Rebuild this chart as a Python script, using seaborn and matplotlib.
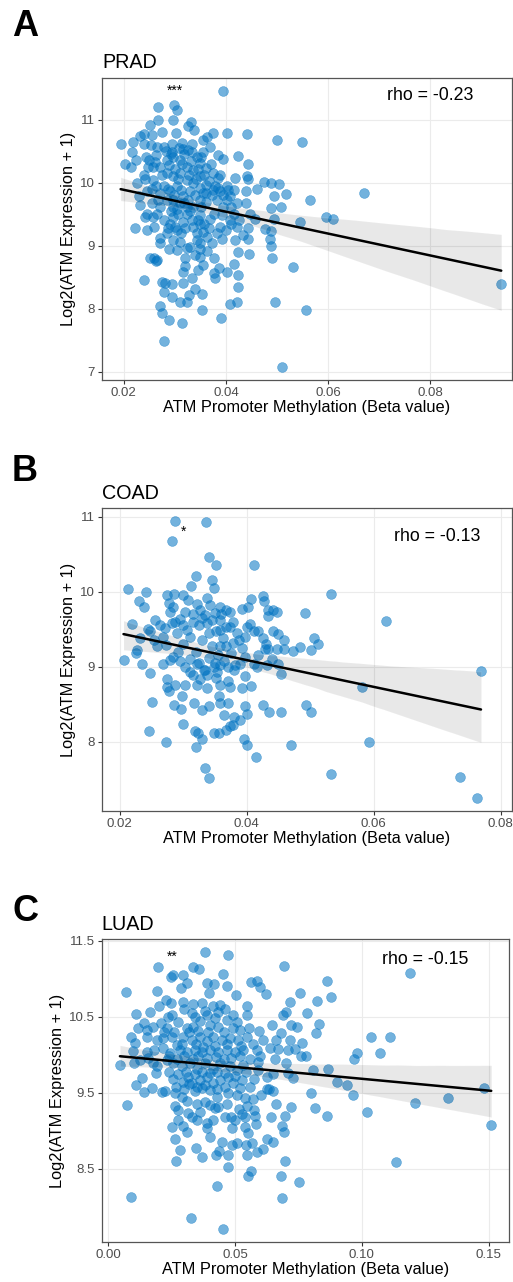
import matplotlib
matplotlib.use("Agg")
import matplotlib.pyplot as plt
import seaborn as sns
import pandas as pd

# (beta value, log2 expression)
prad_points = [
    (0.0395, 11.45), (0.0268, 11.20), (0.0299, 11.23), (0.0304, 11.15), (0.0297, 11.00),
    (0.0268, 10.99), (0.0252, 10.92), (0.0275, 10.81), (0.0331, 10.96), (0.0325, 10.90),
    (0.0338, 10.84), (0.0303, 10.79), (0.0240, 10.77), (0.0231, 10.74), (0.0256, 10.76),
    (0.0194, 10.61), (0.0219, 10.65), (0.0239, 10.62), (0.0254, 10.60), (0.0202, 10.29),
    (0.0215, 10.25), (0.0217, 10.49), (0.0225, 10.36), (0.0244, 10.41), (0.0263, 10.44),
    (0.0278, 10.57), (0.0294, 10.62), (0.0314, 10.63), (0.0333, 10.61), (0.0355, 10.67),
    (0.0363, 10.73), (0.0374, 10.79), (0.0402, 10.79), (0.0441, 10.77), (0.0501, 10.68),
    (0.0549, 10.65), (0.0356, 10.48), (0.0385, 10.44), (0.0395, 10.37), (0.0423, 10.43),
    (0.0444, 10.29), (0.0441, 10.10), (0.0418, 10.07), (0.0444, 10.06), (0.0474, 10.01),
    (0.0488, 10.00), (0.0504, 9.98), (0.0461, 9.90), (0.0518, 9.82), (0.0494, 9.79),
    (0.0671, 9.83), (0.0565, 9.72), (0.0508, 9.61), (0.0488, 9.59), (0.0440, 9.67),
    (0.0440, 9.86), (0.0415, 9.89), (0.0596, 9.46), (0.0609, 9.42), (0.0545, 9.37),
    (0.0494, 9.43), (0.0476, 9.26), (0.0488, 9.23), (0.0487, 9.11), (0.0488, 9.00),
    (0.0490, 8.80), (0.0446, 8.87), (0.0444, 9.11), (0.0424, 8.90), (0.0418, 9.09),
    (0.0421, 9.30), (0.0444, 9.28), (0.0434, 9.17), (0.0532, 8.66), (0.0415, 8.71),
    (0.0423, 8.53), (0.0423, 8.35), (0.0421, 8.10), (0.0408, 8.07), (0.0496, 8.11),
    (0.0556, 7.98), (0.0390, 7.85), (0.0402, 8.59), (0.0386, 8.64), (0.0376, 8.56),
    (0.0379, 8.48), (0.0376, 8.80), (0.0363, 8.92), (0.0356, 8.70), (0.0346, 8.61),
    (0.0340, 8.85), (0.0333, 8.48), (0.0340, 8.32), (0.0327, 8.22), (0.0353, 8.24),
    (0.0354, 7.98), (0.0323, 8.10), (0.0310, 8.10), (0.0314, 7.77), (0.0288, 7.82),
    (0.0275, 7.93), (0.0271, 8.04), (0.0294, 8.19), (0.0278, 8.27), (0.0281, 8.41),
    (0.0274, 8.43), (0.0294, 8.40), (0.0316, 8.41), (0.0239, 8.45), (0.0316, 8.59),
    (0.0320, 8.67), (0.0320, 8.80), (0.0323, 8.96), (0.0304, 8.93), (0.0289, 8.94),
    (0.0271, 9.04), (0.0265, 8.77), (0.0259, 8.80), (0.0252, 8.80), (0.0264, 8.75),
    (0.0272, 9.12), (0.0284, 9.20), (0.0297, 9.09), (0.0310, 9.06), (0.0343, 9.09),
    (0.0349, 8.94), (0.0363, 9.14), (0.0366, 9.28), (0.0382, 9.20), (0.0389, 9.30),
    (0.0369, 9.43), (0.0349, 9.35), (0.0336, 9.30), (0.0320, 9.28), (0.0304, 9.25),
    (0.0291, 9.35), (0.0278, 9.41), (0.0259, 9.30), (0.0245, 9.25), (0.0222, 9.28),
    (0.0245, 9.51), (0.0242, 9.46), (0.0232, 9.65), (0.0229, 9.78), (0.0227, 9.99),
    (0.0239, 10.12), (0.0258, 10.04), (0.0264, 9.94), (0.0245, 9.86), (0.0255, 9.67),
    (0.0271, 9.62), (0.0284, 9.72), (0.0297, 9.62), (0.0307, 9.51), (0.0323, 9.51),
    (0.0336, 9.62), (0.0349, 9.72), (0.0362, 9.83), (0.0375, 9.88), (0.0389, 9.86),
    (0.0382, 9.72), (0.0402, 9.72), (0.0408, 9.78), (0.0395, 9.62), (0.0415, 9.51),
    (0.0421, 9.67), (0.0447, 9.51), (0.0457, 9.43), (0.0425, 9.41), (0.0408, 9.41),
    (0.0271, 10.25), (0.0284, 10.36), (0.0297, 10.41), (0.0310, 10.36), (0.0323, 10.25),
    (0.0284, 10.15), (0.0297, 10.10), (0.0310, 10.15), (0.0323, 10.04), (0.0336, 9.99),
    (0.0349, 10.10), (0.0336, 10.20), (0.0349, 10.31), (0.0362, 10.23), (0.0375, 10.15),
    (0.0385, 10.07), (0.0278, 9.94), (0.0291, 9.86), (0.0304, 9.94), (0.0317, 9.78),
    (0.0330, 9.86), (0.0349, 9.91), (0.0362, 9.96), (0.0356, 9.83), (0.0271, 9.83),
    (0.0258, 10.25), (0.0248, 10.25), (0.0265, 10.57), (0.0343, 10.41), (0.0333, 10.49),
    (0.0369, 10.57), (0.0317, 10.54), (0.0294, 10.49), (0.0297, 9.72), (0.0310, 9.67),
    (0.0323, 9.62), (0.0333, 9.41), (0.0317, 9.38), (0.0297, 9.46), (0.0265, 9.51),
    (0.0258, 9.46), (0.0376, 9.51), (0.0392, 9.49), (0.0389, 10.12), (0.0402, 9.94),
    (0.0349, 9.49), (0.0343, 9.20), (0.0349, 9.04), (0.0330, 8.98), (0.0349, 8.82),
    (0.0278, 7.49), (0.0510, 7.07), (0.0939, 8.40),
    # dense core, estimated
    (0.0262, 10.32), (0.0275, 10.12), (0.0288, 10.28), (0.0292, 10.46), (0.0301, 10.22),
    (0.0306, 10.05), (0.0315, 10.30), (0.0319, 10.45), (0.0328, 10.12), (0.0331, 10.35),
    (0.0342, 10.05), (0.0345, 10.22), (0.0352, 10.40), (0.0358, 10.12), (0.0366, 10.02),
    (0.0371, 10.30), (0.0378, 9.95), (0.0286, 9.90), (0.0299, 9.80), (0.0312, 9.88),
    (0.0325, 9.72), (0.0339, 9.80), (0.0351, 9.62), (0.0361, 9.70), (0.0372, 9.80),
    (0.0384, 9.92), (0.0395, 9.80), (0.0405, 9.88), (0.0410, 9.62), (0.0292, 9.55),
    (0.0305, 9.58), (0.0318, 9.68), (0.0330, 9.55), (0.0346, 9.40), (0.0358, 9.35),
    (0.0268, 9.72), (0.0255, 9.90), (0.0242, 10.05), (0.0250, 10.36), (0.0282, 10.50),
    (0.0308, 10.55), (0.0326, 10.52), (0.0300, 9.30), (0.0312, 9.20), (0.0286, 9.28),
    (0.0355, 9.22), (0.0372, 9.05), (0.0392, 9.10), (0.0400, 9.25), (0.0410, 9.35),
]

coad_points = [
    (0.0287, 10.94), (0.0336, 10.93), (0.0283, 10.68), (0.0341, 10.46), (0.0352, 10.36),
    (0.0412, 10.35), (0.0320, 10.21), (0.0345, 10.15), (0.0349, 10.05), (0.0313, 10.08),
    (0.0213, 10.04), (0.0241, 10.00), (0.0231, 9.88), (0.0238, 9.80), (0.0274, 9.95),
    (0.0286, 9.97), (0.0299, 9.96), (0.0308, 9.89), (0.0277, 9.85), (0.0284, 9.80),
    (0.0279, 9.73), (0.0303, 9.73), (0.0322, 9.84), (0.0338, 9.91), (0.0342, 9.82),
    (0.0326, 9.76), (0.0334, 9.69), (0.0350, 9.71), (0.0358, 9.80), (0.0368, 9.76),
    (0.0374, 9.73), (0.0393, 9.77), (0.0402, 9.80), (0.0407, 9.90), (0.0426, 9.94),
    (0.0428, 9.87), (0.0433, 9.76), (0.0441, 9.76), (0.0447, 9.73), (0.0434, 9.67),
    (0.0492, 9.71), (0.0532, 9.97), (0.0619, 9.61), (0.0219, 9.57), (0.0245, 9.50),
    (0.0248, 9.48), (0.0256, 9.62), (0.0264, 9.56), (0.0271, 9.51), (0.0282, 9.58),
    (0.0287, 9.60), (0.0295, 9.64), (0.0306, 9.49), (0.0316, 9.59), (0.0325, 9.56),
    (0.0337, 9.58), (0.0351, 9.48), (0.0358, 9.62), (0.0367, 9.53), (0.0379, 9.60),
    (0.0374, 9.53), (0.0358, 9.49), (0.0400, 9.53), (0.0405, 9.57), (0.0411, 9.48),
    (0.0418, 9.48), (0.0442, 9.48), (0.0450, 9.44), (0.0459, 9.36), (0.0398, 9.40),
    (0.0388, 9.35), (0.0379, 9.31), (0.0368, 9.27), (0.0358, 9.28), (0.0430, 9.30),
    (0.0429, 9.24), (0.0434, 9.24), (0.0447, 9.23), (0.0459, 9.24), (0.0473, 9.21),
    (0.0484, 9.26), (0.0501, 9.22), (0.0506, 9.38), (0.0513, 9.30), (0.0232, 9.38),
    (0.0226, 9.18), (0.0228, 9.22), (0.0206, 9.09), (0.0235, 9.04), (0.0248, 8.91),
    (0.0254, 9.35), (0.0259, 9.27), (0.0273, 9.29), (0.0268, 9.03), (0.0279, 9.09),
    (0.0284, 9.13), (0.0295, 9.07), (0.0303, 9.00), (0.0311, 8.93), (0.0316, 8.89),
    (0.0321, 9.04), (0.0326, 8.84), (0.0332, 8.96), (0.0337, 8.89), (0.0348, 9.00),
    (0.0353, 8.93), (0.0358, 9.02), (0.0371, 9.00), (0.0382, 9.02), (0.0390, 9.04),
    (0.0398, 9.13), (0.0411, 9.04), (0.0417, 8.99), (0.0432, 9.02), (0.0450, 9.03),
    (0.0454, 8.90), (0.0397, 8.88), (0.0407, 8.74), (0.0392, 8.71), (0.0374, 8.73),
    (0.0370, 8.81), (0.0358, 8.76), (0.0338, 8.72), (0.0321, 8.76), (0.0303, 8.76),
    (0.0287, 8.75), (0.0275, 8.73), (0.0274, 8.83), (0.0278, 8.67), (0.0298, 8.61),
    (0.0356, 8.61), (0.0358, 8.51), (0.0371, 8.51), (0.0341, 8.48), (0.0317, 8.51),
    (0.0286, 8.49), (0.0297, 8.44), (0.0251, 8.53), (0.0329, 8.42), (0.0365, 8.36),
    (0.0380, 8.33), (0.0389, 8.29), (0.0397, 8.48), (0.0401, 8.37), (0.0425, 8.49),
    (0.0435, 8.40), (0.0454, 8.40), (0.0493, 8.49), (0.0502, 8.39), (0.0582, 8.73),
    (0.0769, 8.94), (0.0299, 8.23), (0.0246, 8.14), (0.0318, 8.14), (0.0324, 8.11),
    (0.0329, 8.04), (0.0348, 8.12), (0.0357, 8.12), (0.0367, 8.16), (0.0373, 8.21),
    (0.0379, 8.22), (0.0273, 7.99), (0.0320, 7.93), (0.0396, 8.03), (0.0400, 7.96),
    (0.0415, 7.80), (0.0470, 7.95), (0.0593, 8.00), (0.0335, 7.65), (0.0340, 7.52),
    (0.0532, 7.57), (0.0736, 7.53), (0.0763, 7.25),
    # dense core, estimated
    (0.0290, 9.45), (0.0300, 9.30), (0.0310, 9.40), (0.0320, 9.20), (0.0330, 9.35),
    (0.0340, 9.45), (0.0345, 9.28), (0.0355, 9.15), (0.0362, 9.38), (0.0375, 9.18),
    (0.0385, 9.45), (0.0392, 9.25), (0.0310, 9.10), (0.0325, 9.05), (0.0340, 9.12),
    (0.0350, 9.05), (0.0365, 9.08), (0.0380, 8.95), (0.0300, 9.55), (0.0330, 9.65),
    (0.0345, 9.62), (0.0360, 9.70), (0.0315, 9.70), (0.0292, 9.20), (0.0335, 8.95),
    (0.0352, 8.85), (0.0418, 9.15), (0.0425, 9.38), (0.0440, 9.10), (0.0268, 9.40),
]

luad_points = [
    (0.0381, 11.35), (0.0472, 11.32), (0.0196, 11.16), (0.0333, 11.16), (0.0359, 11.13),
    (0.0692, 11.17), (0.1190, 11.08), (0.0247, 11.03), (0.0256, 11.05), (0.0293, 11.05),
    (0.0451, 11.07), (0.0310, 10.94), (0.0288, 10.88), (0.0391, 10.94), (0.0417, 10.93),
    (0.0469, 10.91), (0.0562, 10.96), (0.0585, 10.97), (0.0597, 10.89), (0.0623, 10.80),
    (0.0863, 10.97), (0.0878, 10.76), (0.0070, 10.83), (0.0191, 10.84), (0.0397, 10.81),
    (0.0505, 10.79), (0.0757, 10.82), (0.0822, 10.71), (0.0718, 10.69), (0.0228, 10.72),
    (0.0246, 10.68), (0.0293, 10.70), (0.0335, 10.67), (0.0368, 10.68), (0.0414, 10.64),
    (0.0441, 10.66), (0.0546, 10.64), (0.0785, 10.55), (0.0108, 10.54), (0.0164, 10.56),
    (0.0201, 10.64), (0.0237, 10.50), (0.0250, 10.52), (0.0329, 10.55), (0.0388, 10.53),
    (0.0434, 10.57), (0.0493, 10.53), (0.0546, 10.53), (0.0690, 10.52), (0.0701, 10.56),
    (0.0116, 10.36), (0.0141, 10.42), (0.0151, 10.33), (0.0178, 10.37), (0.0208, 10.42),
    (0.0230, 10.35), (0.0276, 10.43), (0.0309, 10.35), (0.0335, 10.37), (0.0362, 10.44),
    (0.0401, 10.39), (0.0434, 10.37), (0.0467, 10.46), (0.0506, 10.43), (0.0519, 10.33),
    (0.0596, 10.32), (0.0644, 10.39), (0.0681, 10.29), (0.0720, 10.39), (0.0743, 10.37),
    (0.0829, 10.41), (0.0818, 10.29), (0.0088, 10.23), (0.0105, 10.16), (0.0151, 10.24),
    (0.0191, 10.20), (0.0217, 10.22), (0.0250, 10.24), (0.0270, 10.13), (0.0296, 10.24),
    (0.0329, 10.20), (0.0362, 10.24), (0.0388, 10.18), (0.0414, 10.24), (0.0447, 10.20),
    (0.0480, 10.22), (0.0513, 10.20), (0.0546, 10.24), (0.0572, 10.15), (0.0611, 10.20),
    (0.0660, 10.20), (0.0717, 10.20), (0.0763, 10.16), (0.1035, 10.24), (0.1110, 10.23),
    (0.0099, 10.05), (0.0151, 10.04), (0.0180, 10.07), (0.0217, 10.09), (0.0243, 10.02),
    (0.0283, 10.07), (0.0309, 10.04), (0.0342, 10.07), (0.0368, 10.04), (0.0401, 10.07),
    (0.0434, 10.04), (0.0467, 10.07), (0.0500, 10.04), (0.0533, 10.07), (0.0585, 10.07),
    (0.0638, 10.09), (0.0671, 10.08), (0.0710, 10.07), (0.0736, 10.08), (0.0760, 9.99),
    (0.0780, 9.99), (0.1070, 10.03), (0.0980, 10.02), (0.0969, 9.94), (0.0046, 9.87),
    (0.0101, 9.90), (0.0125, 9.93), (0.0158, 9.96), (0.0175, 9.90), (0.0191, 9.85),
    (0.0230, 9.93), (0.0256, 9.89), (0.0289, 9.85), (0.0322, 9.89), (0.0348, 9.82),
    (0.0381, 9.89), (0.0414, 9.82), (0.0441, 9.89), (0.0480, 9.85), (0.0506, 9.80),
    (0.0533, 9.87), (0.0592, 9.91), (0.0658, 9.94), (0.0701, 9.90), (0.0809, 9.80),
    (0.0868, 9.82), (0.0132, 9.69), (0.0109, 9.60), (0.0141, 9.51), (0.0174, 9.56),
    (0.0189, 9.76), (0.0210, 9.51), (0.0224, 9.52), (0.0254, 9.68), (0.0267, 9.58),
    (0.0296, 9.65), (0.0316, 9.71), (0.0329, 9.63), (0.0362, 9.67), (0.0388, 9.71),
    (0.0414, 9.63), (0.0441, 9.67), (0.0472, 9.71), (0.0493, 9.63), (0.0526, 9.67),
    (0.0575, 9.68), (0.0625, 9.71), (0.0648, 9.75), (0.0710, 9.76), (0.0727, 9.70),
    (0.0903, 9.65), (0.0940, 9.60), (0.0963, 9.47), (0.0798, 9.50), (0.0263, 9.50),
    (0.0289, 9.45), (0.0309, 9.39), (0.0342, 9.52), (0.0371, 9.56), (0.0401, 9.54),
    (0.0427, 9.45), (0.0473, 9.50), (0.0506, 9.47), (0.0539, 9.43), (0.0569, 9.42),
    (0.0601, 9.47), (0.0625, 9.55), (0.0635, 9.55), (0.0651, 9.52), (0.1480, 9.56),
    (0.1340, 9.44), (0.1210, 9.37), (0.1020, 9.25), (0.0075, 9.34), (0.0263, 9.33),
    (0.0276, 9.28), (0.0316, 9.23), (0.0362, 9.25), (0.0401, 9.34), (0.0434, 9.32),
    (0.0517, 9.29), (0.0546, 9.33), (0.0575, 9.28), (0.0661, 9.36), (0.0719, 9.32),
    (0.0815, 9.30), (0.0274, 9.15), (0.0293, 9.07), (0.0329, 9.19), (0.0348, 9.14),
    (0.0388, 9.10), (0.0414, 9.15), (0.0460, 9.19), (0.0483, 9.19), (0.0527, 9.22),
    (0.0578, 9.20), (0.0582, 9.09), (0.0642, 9.19), (0.0696, 9.20), (0.0864, 9.20),
    (0.1510, 9.08), (0.0250, 9.05), (0.0309, 8.98), (0.0388, 9.04), (0.0489, 9.04),
    (0.0539, 9.05), (0.0552, 8.97), (0.0684, 9.07), (0.0692, 8.99), (0.0263, 8.89),
    (0.0400, 8.92), (0.0447, 8.86), (0.0509, 8.84), (0.0625, 8.90), (0.0651, 8.85),
    (0.0283, 8.75), (0.0346, 8.78), (0.0437, 8.74), (0.0486, 8.81), (0.0543, 8.82),
    (0.0565, 8.84), (0.0611, 8.76), (0.0371, 8.66), (0.0425, 8.68), (0.0471, 8.68),
    (0.0546, 8.69), (0.0585, 8.72), (0.0267, 8.61), (0.0698, 8.60), (0.0471, 8.52),
    (0.1135, 8.59), (0.0562, 8.47), (0.0549, 8.41), (0.0680, 8.41), (0.0753, 8.33),
    (0.0430, 8.28), (0.0091, 8.13), (0.0684, 8.12), (0.0326, 7.86), (0.0452, 7.71),
    # dense core, estimated
    (0.0220, 10.30), (0.0260, 10.30), (0.0290, 10.15), (0.0320, 10.30), (0.0345, 10.15),
    (0.0355, 10.32), (0.0375, 10.10), (0.0395, 10.30), (0.0420, 10.12), (0.0455, 10.30),
    (0.0470, 10.15), (0.0490, 10.35), (0.0525, 10.12), (0.0555, 10.35), (0.0240, 9.98),
    (0.0270, 9.95), (0.0300, 9.98), (0.0335, 9.95), (0.0355, 9.98), (0.0390, 9.96),
    (0.0425, 9.97), (0.0455, 9.95), (0.0485, 9.96), (0.0520, 9.98), (0.0560, 9.95),
    (0.0600, 9.98), (0.0240, 9.78), (0.0275, 9.75), (0.0305, 9.78), (0.0340, 9.75),
    (0.0370, 9.78), (0.0400, 9.76), (0.0430, 9.78), (0.0460, 9.76), (0.0500, 9.72),
    (0.0545, 9.78), (0.0590, 9.80), (0.0300, 9.55), (0.0320, 9.62), (0.0350, 9.58),
    (0.0380, 9.60), (0.0430, 9.55), (0.0460, 9.58), (0.0520, 9.56), (0.0560, 9.58),
    (0.0350, 9.35), (0.0380, 9.38), (0.0420, 9.30), (0.0470, 9.35), (0.0500, 9.15),
    (0.0540, 9.18), (0.0340, 10.50), (0.0380, 10.58), (0.0420, 10.48), (0.0460, 10.60),
    (0.0300, 10.60),
]

panels = [
    dict(letter="A", title="PRAD", points=prad_points, rho="rho = -0.23", stars="***",
         rect=[0.1988, 0.7036, 0.7992, 0.2356], xlim=(0.01575, 0.0960), ylim=(6.87, 11.66),
         xticks=[0.02, 0.04, 0.06, 0.08], xfmt="{:.2f}", yticks=[7, 8, 9, 10, 11], yfmt="{:.0f}",
         rho_xy=(0.080, 11.38), star_xy=(0.0300, 11.46), letter_y=0.979),
    dict(letter="B", title="COAD", points=coad_points, rho="rho = -0.13", stars="*",
         rect=[0.1988, 0.3674, 0.7992, 0.2361], xlim=(0.01721, 0.08178), ylim=(7.076, 11.11),
         xticks=[0.02, 0.04, 0.06, 0.08], xfmt="{:.2f}", yticks=[8, 9, 10, 11], yfmt="{:.0f}",
         rho_xy=(0.0700, 10.74), star_xy=(0.0300, 10.80), letter_y=0.632),
    dict(letter="C", title="LUAD", points=luad_points, rho="rho = -0.15", stars="**",
         rect=[0.1982, 0.0312, 0.7945, 0.2361], xlim=(-0.0026, 0.1581), ylim=(7.54, 11.52),
         xticks=[0.00, 0.05, 0.10, 0.15], xfmt="{:.2f}", yticks=[8.5, 9.5, 10.5, 11.5], yfmt="{:.1f}",
         rho_xy=(0.1248, 11.25), star_xy=(0.0251, 11.29), letter_y=0.289),
]

sns.set_theme(style="white")
plt.rcParams["font.family"] = ["Liberation Sans", "DejaVu Sans"]
plt.rcParams["text.color"] = "black"
plt.rcParams["axes.labelcolor"] = "black"

fig = plt.figure(figsize=(5.13, 12.82), dpi=100)
point_color = "#0073C2"

for p in panels:
    df = pd.DataFrame(p["points"], columns=["beta", "expr"])
    ax = fig.add_axes(p["rect"])
    ax.set_facecolor("white")
    ax.grid(True, color="#EBEBEB", linewidth=0.8, zorder=0)
    ax.set_axisbelow(True)

    sns.scatterplot(data=df, x="beta", y="expr", ax=ax, color=point_color, alpha=0.55,
                    s=50, edgecolor=point_color, linewidth=0.4, zorder=2)
    sns.regplot(data=df, x="beta", y="expr", ax=ax, scatter=False, ci=95,
                line_kws=dict(color="black", linewidth=1.8, zorder=4))
    for coll in ax.collections[1:]:
        coll.set_alpha(0.09)
        coll.set_zorder(3)

    ax.set_xlim(*p["xlim"])
    ax.set_ylim(*p["ylim"])
    ax.set_xticks(p["xticks"])
    ax.set_xticklabels([p["xfmt"].format(v) for v in p["xticks"]])
    ax.set_yticks(p["yticks"])
    ax.set_yticklabels([p["yfmt"].format(v) for v in p["yticks"]])
    ax.tick_params(axis="both", which="major", length=3, width=0.8, color="#333333",
                   labelsize=9.5, labelcolor="#4D4D4D", pad=2, direction="out",
                   bottom=True, left=True)
    for sp in ax.spines.values():
        sp.set_color("#555555")
        sp.set_linewidth(0.9)

    ax.set_xlabel("ATM Promoter Methylation (Beta value)", fontsize=11.8, labelpad=1)
    ax.set_ylabel("Log2(ATM Expression + 1)", fontsize=11.8, labelpad=3)
    ax.set_title(p["title"], loc="left", fontsize=14.2, pad=7, x=0.0, color="black")

    ax.text(*p["rho_xy"], p["rho"], fontsize=12.8, ha="center", va="center", zorder=5)
    ax.text(*p["star_xy"], p["stars"], fontsize=10, ha="center", va="center", zorder=5)

    fig.text(0.0234, p["letter_y"], p["letter"], fontsize=26, fontweight="bold",
             ha="left", va="center")

fig.savefig("out.png", dpi=100, facecolor="white")
